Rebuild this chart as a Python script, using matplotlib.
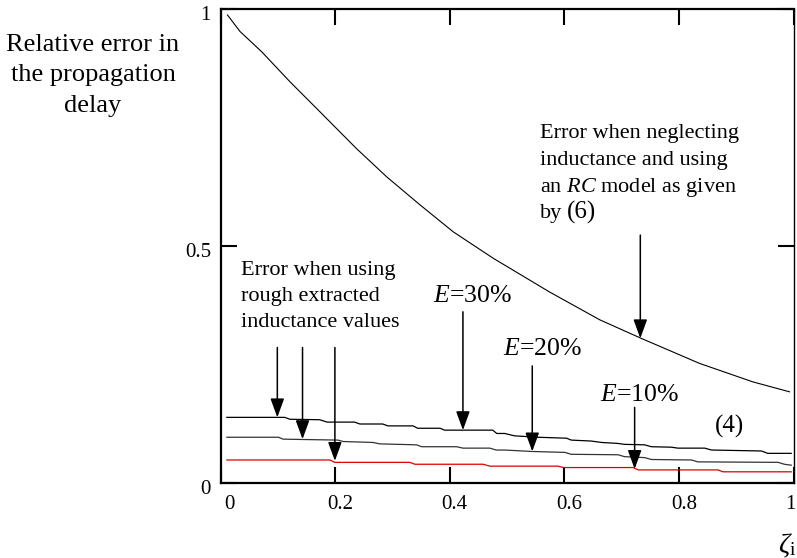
import matplotlib
matplotlib.use("Agg")
import matplotlib.pyplot as plt
from matplotlib.transforms import ScaledTranslation

plt.rcParams['font.family'] = ['Liberation Serif', 'DejaVu Serif']
plt.rcParams['mathtext.fontset'] = 'custom'
plt.rcParams['mathtext.rm'] = 'Liberation Serif'
plt.rcParams['mathtext.it'] = 'Liberation Serif:italic'

# ---- data ----
rc_x = [0.012, 0.034, 0.072, 0.121, 0.173, 0.237, 0.290, 0.348, 0.406, 0.476,
        0.574, 0.662, 0.734, 0.836, 0.929, 0.993]
rc_y = [0.988, 0.953, 0.910, 0.847, 0.784, 0.706, 0.646, 0.587, 0.530, 0.474,
        0.403, 0.344, 0.305, 0.252, 0.213, 0.192]

e30_x = [0.011, 0.112, 0.121, 0.173, 0.186, 0.234, 0.243, 0.283, 0.292, 0.336,
         0.344, 0.383, 0.391, 0.475, 0.482, 0.496, 0.513, 0.554, 0.604, 0.612,
         0.647, 0.665, 0.693, 0.705, 0.740, 0.752, 0.787, 0.798, 0.845, 0.857,
         0.944, 0.955, 0.996]
e30_y = [0.138, 0.138, 0.134, 0.133, 0.128, 0.128, 0.124, 0.124, 0.120, 0.120,
         0.115, 0.115, 0.111, 0.111, 0.104, 0.104, 0.099, 0.096, 0.094, 0.090,
         0.088, 0.085, 0.083, 0.081, 0.080, 0.076, 0.075, 0.073, 0.073, 0.069,
         0.067, 0.062, 0.062]

e20_x = [0.011, 0.101, 0.109, 0.205, 0.214, 0.266, 0.278, 0.342, 0.351, 0.412,
         0.423, 0.470, 0.481, 0.496, 0.543, 0.601, 0.612, 0.694, 0.705, 0.740,
         0.752, 0.822, 0.833, 0.973, 0.984, 0.996]
e20_y = [0.096, 0.096, 0.092, 0.090, 0.087, 0.085, 0.082, 0.080, 0.076, 0.076,
         0.073, 0.073, 0.069, 0.069, 0.066, 0.064, 0.060, 0.059, 0.055, 0.053,
         0.049, 0.048, 0.044, 0.043, 0.039, 0.037]

e10_x = [0.011, 0.191, 0.199, 0.330, 0.339, 0.458, 0.470, 0.589, 0.598, 0.720,
         0.729, 0.868, 0.877, 0.996]
e10_y = [0.048, 0.048, 0.043, 0.043, 0.039, 0.039, 0.035, 0.035, 0.032, 0.032,
         0.027, 0.027, 0.023, 0.023]

x_ticks = [0, 0.2, 0.4, 0.6, 0.8, 1]
x_ticklabels = ["0", "0.2", "0.4", "0.6", "0.8", "1"]
y_ticks = [0, 0.5, 1]
y_ticklabels = ["0", "0.5", "1"]

# arrows: (x, y_start, y_tip)
arrow_x = [0.099, 0.143, 0.1995, 0.423, 0.544, 0.7227, 0.7326]
arrow_start = [0.2856, 0.2856, 0.2856, 0.361, 0.2465, 0.159, 0.523]
arrow_tip = [0.138, 0.092, 0.046, 0.111, 0.066, 0.029, 0.305]

W, H = 797, 558
fig = plt.figure(figsize=(W / 100, H / 100), dpi=100)
ax = fig.add_axes([220.6 / W, 1 - 482.7 / H, (793.5 - 220.6) / W, (482.7 - 9.3) / H])

ax.plot(rc_x, rc_y, color='black', lw=0.8)
ax.plot(e30_x, e30_y, color='black', lw=0.9)
ax.plot(e20_x, e20_y, color='#333333', lw=0.9)
ax.plot(e10_x, e10_y, color='#dd0000', lw=0.9)

for xa, ys, yt in zip(arrow_x, arrow_start, arrow_tip):
    ax.annotate('', xy=(xa, yt), xytext=(xa, ys),
                arrowprops=dict(arrowstyle='-|>,head_length=1.15,head_width=0.42',
                                mutation_scale=10, color='black', lw=1.1,
                                shrinkA=0, shrinkB=0))

ax.set_xlim(0, 1)
ax.set_ylim(0, 1)
ax.set_xticks(x_ticks)
ax.set_xticklabels(x_ticklabels)
ax.set_yticks(y_ticks)
ax.set_yticklabels(y_ticklabels)
ax.tick_params(axis='both', direction='in', length=11.5, width=1.5,
               labelsize=15, top=True, right=True)
ax.tick_params(axis='x', pad=9)
ax.tick_params(axis='y', pad=7)
for s in ['left', 'bottom', 'top']:
    ax.spines[s].set_linewidth(1.6)
ax.spines['right'].set_linewidth(1.0)

xlabs = ax.get_xticklabels()
for i, lab in enumerate(xlabs):
    dx = 5 / 100 if i < len(xlabs) - 1 else -3 / 100
    if i == 0:
        dx = 9 / 100
    lab.set_transform(lab.get_transform() + ScaledTranslation(dx, 0, fig.dpi_scale_trans))
for lab in ax.get_yticklabels():
    lab.set_transform(lab.get_transform() + ScaledTranslation(0, -4 / 100, fig.dpi_scale_trans))


def P(x, y):
    return (x / W, 1 - y / H)


# y axis label
fy = 19
fig.text(*P(93, 50.7), "Relative error in", ha='center', va='baseline', fontsize=fy)
fig.text(*P(93, 81.2), "the propagation", ha='center', va='baseline', fontsize=fy)
fig.text(*P(93, 111.7), "delay", ha='center', va='baseline', fontsize=fy)

# x axis label
fig.text(*P(787, 552), r"$\zeta_{\mathrm{i}}$", ha='center', va='baseline', fontsize=20)

# RC annotation
fs = 16
fig.text(*P(540, 138.3), "Error when neglecting", ha='left', va='baseline', fontsize=fs)
fig.text(*P(540, 165), "inductance and using", ha='left', va='baseline', fontsize=fs)
fig.text(*P(540, 191.7), r"an $RC$ model as given", ha='left', va='baseline', fontsize=fs)
fig.text(*P(540, 218.3), "by", ha='left', va='baseline', fontsize=fs)
fig.text(*P(567, 218.3), "(6)", ha='left', va='baseline', fontsize=18)

# rough-inductance annotation
fig.text(*P(240.7, 275), "Error when using", ha='left', va='baseline', fontsize=fs)
fig.text(*P(240.7, 300.7), "rough extracted", ha='left', va='baseline', fontsize=fs)
fig.text(*P(240.7, 326.7), "inductance values", ha='left', va='baseline', fontsize=fs)

# E labels
fe = 18.5
fig.text(*P(432.7, 301.7), r"$E$=30%", ha='left', va='baseline', fontsize=fe)
fig.text(*P(503.3, 355), r"$E$=20%", ha='left', va='baseline', fontsize=fe)
fig.text(*P(600, 400.7), r"$E$=10%", ha='left', va='baseline', fontsize=fe)
fig.text(*P(715, 433), "(4)", ha='left', va='baseline', fontsize=18)

fig.savefig("out.png", dpi=100)
